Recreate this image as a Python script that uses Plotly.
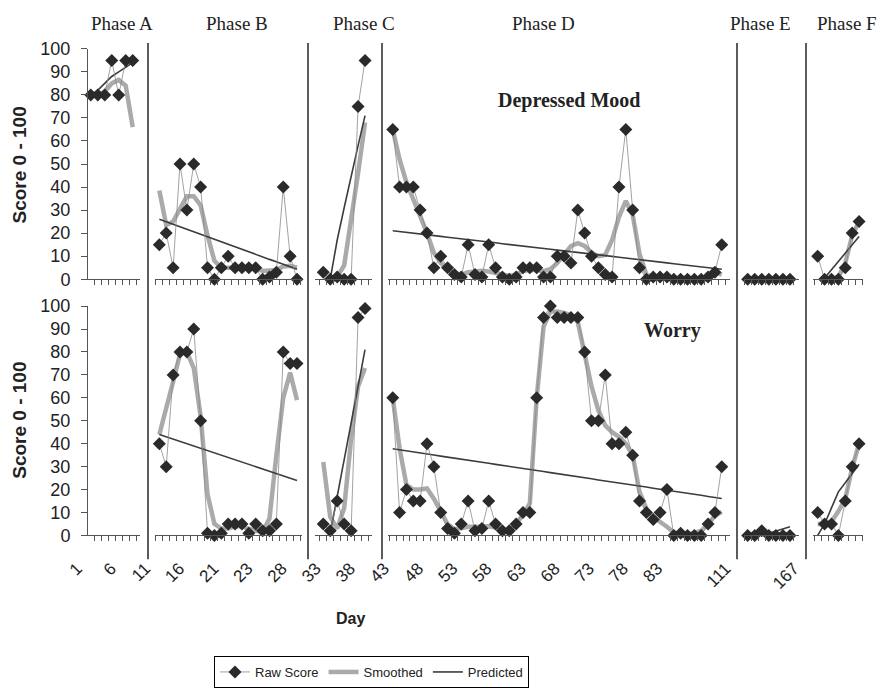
import plotly.graph_objects as go

W, H = 880, 688
def X(px): return px / W
def Y(py): return 1 - py / H

N = None
phase_names = ["Phase A", "Phase B", "Phase C", "Phase D", "Phase E", "Phase F"]
day_labels = ["1", "6", "11", "16", "21", "23", "28", "33", "38", "43", "48", "53",
              "58", "63", "68", "73", "78", "83", "", "111", "", "167"]
y_ticks = [0, 10, 20, 30, 40, 50, 60, 70, 80, 90, 100]

# ---------------- Depressed Mood ----------------
dep_raw_A = [80, 80, 80, 95, 80, 95, 95]
dep_smo_A = [N, 80, 81.5, 85, 86.5, 84, 66]
dep_pre_A = [80, 82, 85, 88, 90, 92, 94]

dep_raw_B = [15, 20, 5, 50, 30, 50, 40, 5, 0, 5, 10, 5, 5, 5, 5, 0, 1, 3, 40, 10, 0]
dep_smo_B = [38.5, 23.5, 25, 31, 36, 36, 32, 19, 8, 5, 5, 5, 5, 5, 5, 3.6, 3.6, 4, 5.5, 5.8, 5]
dep_pre_B = [26.0, 24.9, 23.8, 22.7, 21.7, 20.6, 19.5, 18.4, 17.3, 16.2, 15.2, 14.1, 13.0,
             11.9, 10.8, 9.7, 8.6, 7.6, 6.5, 5.4, 4.3]

dep_raw_C = [3, 0, 1, 0, 0, 75, 95]
dep_smo_C = [N, 0, 1, 6, 25, 46, 68]
dep_pre_C = [N, 0, 17, 31, 45, 58, 71]

dep_raw_D = [65, 40, 40, 40, 30, 20, 5, 10, 5, 2, 1, 15, 2, 1, 15, 5, 1, 0, 1, 5,
             5, 5, 1, 1, 10, 10, 7, 30, 20, 10, 5, 2, 1, 40, 65, 30, 5, 0, 1, 1,
             1, 0, 0, 0, 0, 0, 1, 3, 15]
dep_smo_D = [65, 52, 42, 35, 27, 20, 11.5, 7, 4.3, 2.6, 2, 3, 3.3, 3.7, 3.3, 2.5, 1.7, 1.4, 2, 3.5,
             4, 4, 3.5, 4.3, 7, 11, 14.4, 15.6, 14.4, 11.5, 10, 10.5, 17, 27, 34, 28, 11, 2, 0.5, 0.5,
             0.5, 0.5, 0.5, 0.5, 0.5, 0.5, 1, 3, 2]
dep_pre_D = [21.0, 20.7, 20.3, 20.0, 19.6, 19.3, 18.9, 18.6, 18.2, 17.9,
             17.5, 17.2, 16.8, 16.5, 16.1, 15.8, 15.4, 15.1, 14.7, 14.4,
             14.0, 13.7, 13.3, 13.0, 12.6, 12.3, 12.0, 11.6, 11.3, 10.9,
             10.6, 10.2, 9.9, 9.5, 9.2, 8.8, 8.5, 8.1, 7.8, 7.4,
             7.1, 6.7, 6.4, 6.0, 5.7, 5.3, 5.0, 4.6, 4.3]

dep_raw_E = [0, 0, 0, 0, 0, 0, 0]
dep_smo_E = [0, 0, 0, 0, 0, 0, 0]
dep_pre_E = [N, N, N, N, N, N, N]

dep_raw_F = [10, 0, 0, 0, 5, 20, 25]
dep_smo_F = [N, 0, 0, 1, 7, 19, 25]
dep_pre_F = [N, 0.5, 4, 8, 11.5, 15, 18.5]

# ---------------- Worry ----------------
wor_raw_A = []
wor_smo_A = []
wor_pre_A = []

wor_raw_B = [40, 30, 70, 80, 80, 90, 50, 1, 0, 1, 5, 5, 5, 1, 5, 2, 2, 5, 80, 75, 75]
wor_smo_B = [44, 55, 67, 79, 80, 73, 52, 18, 5, 3, 3, 4, 4, 3, 2, 1.6, 7.4, 35, 60, 71, 59]
wor_pre_B = [44, 43, 42, 41, 40, 39, 38, 37, 36, 35, 34, 33, 32, 31, 30, 29, 28, 27, 26, 25, 24]

wor_raw_C = [5, 2, 15, 5, 2, 95, 99]
wor_smo_C = [32, 8, 3, 12, 42, 65, 73]
wor_pre_C = [N, 1, 17, 33, 49, 65, 81]

wor_raw_D = [60, 10, 20, 15, 15, 40, 30, 10, 3, 1, 5, 15, 2, 3, 15, 5, 2, 2, 5, 10,
             10, 60, 95, 100, 95, 95, 95, 95, 80, 50, 50, 70, 40, 40, 45, 35, 15, 10, 7, 10,
             20, 0, 1, 0, 0, 0, 5, 10, 30]
wor_smo_D = [60, 38, 22, 20, 20, 20.5, 16, 10, 5, 2.7, 3.5, 3.8, 3.8, 4, 4, 3.5, 2, 2, 5, 9,
             14, 60, 91, 97.7, 97.7, 97, 96, 93, 80, 65, 54.5, 48, 45, 43, 40, 35, 19, 11.7, 8, 6,
             3.8, 1.3, 0.4, 0.4, 1, 2, 5, 8.5, 10.3]
wor_pre_D = [37.8, 37.4, 36.9, 36.4, 36.0, 35.5, 35.1, 34.6, 34.2, 33.7,
             33.3, 32.8, 32.4, 31.9, 31.5, 31.0, 30.6, 30.1, 29.7, 29.2,
             28.8, 28.3, 27.9, 27.4, 27.0, 26.5, 26.0, 25.6, 25.1, 24.7,
             24.2, 23.8, 23.3, 22.9, 22.4, 22.0, 21.5, 21.1, 20.6, 20.2,
             19.7, 19.3, 18.8, 18.4, 17.9, 17.5, 17.0, 16.6, 16.1]

wor_raw_E = [0, 0, 2, 0, 0, 0, 0]
wor_smo_E = [0.5, 0.5, 0.5, 0.5, 0.5, 0.5, 0.5]
wor_pre_E = [N, N, N, 1, 2, 3, 3.8]

wor_raw_F = [10, 5, 5, 0, 15, 30, 40]
wor_smo_F = [5, 5, 6, 10.5, 16, 29.5, 40]
wor_pre_F = [0, 5, 12, 19, 23, 27, 31]

dep = [(dep_raw_A, dep_smo_A, dep_pre_A), (dep_raw_B, dep_smo_B, dep_pre_B),
       (dep_raw_C, dep_smo_C, dep_pre_C), (dep_raw_D, dep_smo_D, dep_pre_D),
       (dep_raw_E, dep_smo_E, dep_pre_E), (dep_raw_F, dep_smo_F, dep_pre_F)]
wor = [(wor_raw_A, wor_smo_A, wor_pre_A), (wor_raw_B, wor_smo_B, wor_pre_B),
       (wor_raw_C, wor_smo_C, wor_pre_C), (wor_raw_D, wor_smo_D, wor_pre_D),
       (wor_raw_E, wor_smo_E, wor_pre_E), (wor_raw_F, wor_smo_F, wor_pre_F)]

# ---------------- layout geometry (pixels) ----------------
phase_dom = [(88, 140), (155, 301.7), (315, 372), (388, 730), (744, 799), (813, 863)]
phase_rng = [(-0.39, 7.04), (-0.63, 20.68), (-1.19, 7.0), (-0.69, 49.2), (-0.52, 7.28), (-0.68, 6.57)]
phase_label_x = [122, 237, 364, 543, 760, 848]
separators = [148, 308, 382, 737, 806]

SANS = "Liberation Sans"
SERIF = "Liberation Serif"
TXT = "#222222"
AX = "#555555"

fig = go.Figure()
shown = {"raw": False, "smo": False, "pre": False}

def add_series(ax_x, ax_y, raw, smo, pre):
    if len(raw) == 0:
        fig.add_trace(go.Scatter(x=[0], y=[50], xaxis=ax_x, yaxis=ax_y, mode="markers",
                                 marker=dict(opacity=0), showlegend=False, hoverinfo="skip"))
        return
    xs = list(range(len(raw)))
    fig.add_trace(go.Scatter(x=xs, y=smo, xaxis=ax_x, yaxis=ax_y, mode="lines",
                             line=dict(color="#aaaaaa", width=4.5), name="Smoothed",
                             legendrank=2, showlegend=not shown["smo"], legendgroup="smo"))
    shown["smo"] = True
    fig.add_trace(go.Scatter(x=xs, y=pre, xaxis=ax_x, yaxis=ax_y, mode="lines",
                             line=dict(color="#3c3c3c", width=1.6), name="Predicted",
                             legendrank=3, showlegend=not shown["pre"], legendgroup="pre"))
    shown["pre"] = True
    fig.add_trace(go.Scatter(x=xs, y=raw, xaxis=ax_x, yaxis=ax_y, mode="lines+markers",
                             line=dict(color="#8a8a8a", width=0.8),
                             marker=dict(symbol="diamond", size=10, color="#2a2a2a"),
                             cliponaxis=False, name="Raw Score",
                             legendrank=1, showlegend=not shown["raw"], legendgroup="raw"))
    shown["raw"] = True

layout = {}
for row, data, yname in [(0, dep, "y"), (1, wor, "y2")]:
    for i in range(6):
        k = row * 6 + i + 1
        xname = "x" if k == 1 else "x%d" % k
        raw, smo, pre = data[i]
        add_series(xname, yname, raw, smo, pre)
        layout["xaxis" if k == 1 else "xaxis%d" % k] = dict(
            domain=[X(phase_dom[i][0]), X(phase_dom[i][1])],
            range=list(phase_rng[i]), anchor=yname, showline=True, linecolor=AX, linewidth=1,
            ticks="outside", ticklen=5, tickcolor=AX, tickwidth=1, tick0=-0.5, dtick=1,
            showticklabels=False, showgrid=False, zeroline=False, fixedrange=True)

ycommon = dict(range=[0, 100], tickvals=y_ticks, showline=True, linecolor=AX, linewidth=1,
               ticks="outside", ticklen=6, tickcolor=AX, showgrid=False, zeroline=False,
               ticklabelstandoff=7,
               tickfont=dict(family=SANS, size=18, color=TXT), automargin=False)
layout["yaxis"] = dict(domain=[Y(280), Y(49)], anchor="x", **ycommon)
layout["yaxis2"] = dict(domain=[Y(537), Y(307)], anchor="x7", **ycommon)

# Day label axis
layout["yaxis3"] = dict(domain=[Y(556), Y(554)], anchor="x13", visible=False, range=[0, 1])
layout["xaxis13"] = dict(domain=[X(60), X(811)], range=[-0.5, len(day_labels) - 0.5],
                         anchor="y3", tickvals=list(range(len(day_labels))), ticktext=day_labels,
                         tickangle=-45, ticks="", showline=False, showgrid=False, zeroline=False,
                         tickfont=dict(family=SANS, size=17, color=TXT), automargin=False)
fig.add_trace(go.Scatter(x=[0], y=[0.5], xaxis="x13", yaxis="y3", mode="markers",
                         marker=dict(opacity=0), showlegend=False, hoverinfo="skip"))

shapes = [dict(type="line", xref="paper", yref="paper", x0=X(s), x1=X(s), y0=Y(43), y1=Y(561),
               line=dict(color="#333333", width=1.6)) for s in separators]

ann = []
for name, px in zip(phase_names, phase_label_x):
    if name == "Phase F":
        ann.append(dict(text=name, x=X(879), y=Y(24), xref="paper", yref="paper", showarrow=False,
                        font=dict(family=SERIF, size=19, color=TXT), xanchor="right", yanchor="middle"))
    else:
        ann.append(dict(text=name, x=X(px), y=Y(24), xref="paper", yref="paper", showarrow=False,
                        font=dict(family=SERIF, size=19, color=TXT), xanchor="center", yanchor="middle"))
ann.append(dict(text="<b>Depressed Mood</b>", x=X(569), y=Y(101), xref="paper", yref="paper",
                showarrow=False, xanchor="center", yanchor="middle",
                font=dict(family=SERIF, size=20, color=TXT)))
ann.append(dict(text="<b>Worry</b>", x=X(672), y=Y(331), xref="paper", yref="paper",
                showarrow=False, xanchor="center", yanchor="middle",
                font=dict(family=SERIF, size=20, color=TXT)))
for yc in (166, 422):
    ann.append(dict(text="<b>Score 0 - 100</b>", x=X(20), y=Y(yc), xref="paper", yref="paper",
                    showarrow=False, textangle=-90, xanchor="center", yanchor="middle",
                    font=dict(family=SANS, size=19, color=TXT)))
ann.append(dict(text="<b>Day</b>", x=X(350), y=Y(620), xref="paper", yref="paper",
                showarrow=False, xanchor="center", yanchor="middle",
                font=dict(family=SANS, size=16, color=TXT)))

fig.update_layout(
    width=W, height=H, margin=dict(l=0, r=0, t=0, b=0),
    paper_bgcolor="white", plot_bgcolor="white",
    shapes=shapes, annotations=ann,
    legend=dict(orientation="h", x=X(214), y=Y(658), xanchor="left", yanchor="top",
                bordercolor="#000000", borderwidth=1, bgcolor="white",
                itemwidth=30, tracegroupgap=0,
                font=dict(family=SANS, size=13, color=TXT), traceorder="normal"),
    **layout)

fig.write_html("out.html", config={"displayModeBar": False},
               post_script="document.body.style.margin='0';document.body.style.overflow='hidden';")
